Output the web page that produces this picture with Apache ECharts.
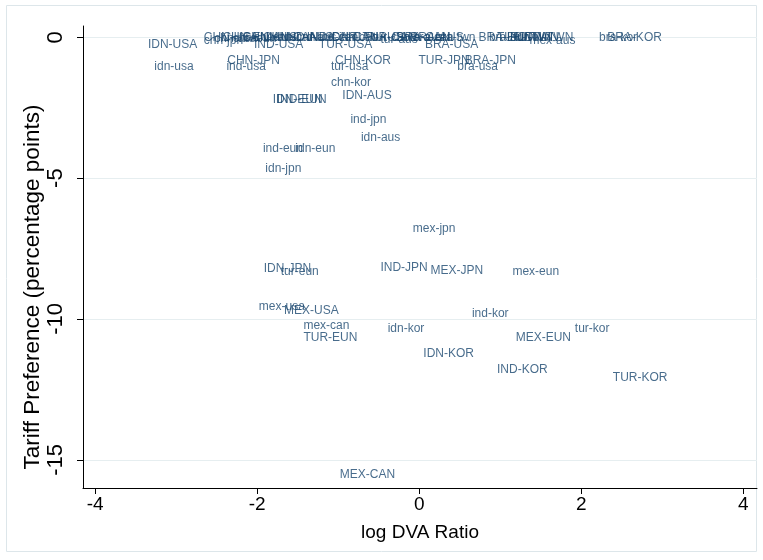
<!DOCTYPE html>
<html>
<head>
<meta charset="utf-8">
<script src="https://cdn.jsdelivr.net/npm/echarts@6/dist/echarts.min.js"></script>
<style>html,body{margin:0;padding:0;background:#fff}#c{width:763px;height:560px}</style>
</head>
<body>
<div id="c"></div>
<script>
var pairLabels = [
  'CHN-USA','chn-jpn','chn-usa','CHN-EUN','chn-eun','CHN-AUS','chn-aus','CHN-CAN','chn-can',
  'IND-AUS','ind-aus','IND-CAN','ind-can','IDN-CAN','idn-can','TUR-AUS','TUR-CAN','tur-can','tur-aus',
  'BRA-CAN','bra-aus','bra-can','BRA-AUS','bra-twn','BRA-EUN','bra-eun','TUR-TWN','IND-TWN','tur-twn',
  'IDN-TWN','mex-aus','bra-kor','BRA-KOR',
  'IDN-USA','idn-usa','IND-USA','ind-usa','TUR-USA','tur-usa','BRA-USA','bra-usa',
  'CHN-JPN','CHN-KOR','TUR-JPN','BRA-JPN','chn-kor','IDN-AUS','IDN-EUN','IND-EUN',
  'ind-jpn','idn-aus','ind-eun','idn-eun','idn-jpn','mex-jpn','IDN-JPN','tur-eun',
  'IND-JPN','MEX-JPN','mex-eun','mex-usa','MEX-USA','ind-kor','mex-can','idn-kor',
  'tur-kor','TUR-EUN','MEX-EUN','IDN-KOR','IND-KOR','TUR-KOR','MEX-CAN'
];
var logDVA = [
  -2.69,-2.69,-2.56,-2.46,-2.33,-2.21,-2.07,-1.96,-1.84,
  -1.70,-1.54,-1.42,-1.27,-1.15,-1.02,-0.88,-0.73,-0.60,-0.51,
  -0.31,-0.23,-0.11,-0.14,0.17,0.70,0.83,0.93,1.05,1.14,
  1.23,1.33,2.19,2.29,
  -3.38,-3.30,-2.07,-2.41,-1.27,-1.12,0.04,0.44,
  -2.40,-1.07,-0.04,0.53,-1.12,-0.98,-1.84,-1.79,
  -0.88,-0.75,-1.96,-1.56,-1.93,-0.11,-1.95,-1.74,
  -0.51,0.11,1.12,-2.01,-1.70,0.62,-1.46,-0.42,
  1.89,-1.46,1.16,0.02,0.93,2.36,-1.01
];
var tariffPref = [
  0,-0.12,-0.05,0,-0.05,0,-0.03,0,-0.03,
  0,-0.03,0,-0.03,0,-0.03,0,0,-0.03,-0.07,
  0,-0.03,-0.03,0,-0.03,0,-0.03,0,0,-0.03,
  0,-0.12,0,0,
  -0.25,-1.03,-0.25,-1.03,-0.25,-1.03,-0.25,-1.03,
  -0.82,-0.82,-0.82,-0.82,-1.60,-2.09,-2.23,-2.23,
  -2.94,-3.58,-3.97,-3.97,-4.65,-6.81,-8.23,-8.33,
  -8.19,-8.30,-8.33,-9.57,-9.72,-9.82,-10.25,-10.35,
  -10.35,-10.67,-10.67,-11.24,-11.81,-12.09,-15.53
];
var xTicks = [-4,-2,0,2,4];
var yTicks = [0,-5,-10,-15];

var data = pairLabels.map(function(n,i){ return {name:n, value:[logDVA[i], tariffPref[i]]}; });

var REG = '"Liberation Sans", Arial, sans-serif';

var chart = echarts.init(document.getElementById('c'), null, {renderer:'canvas'});
chart.setOption({
  animation:false,
  backgroundColor:'#ffffff',
  textStyle:{fontFamily:REG},
  graphic:[{type:'rect', shape:{x:6.5,y:5.5,width:750,height:546}, style:{fill:null, stroke:'#dde6ea', lineWidth:1}, silent:true, z:-1}],
  grid:{left:83, top:26, right:6, bottom:72},
  xAxis:{
    type:'value', min:-4.15, max:4.17,
    name:'log DVA Ratio', nameLocation:'middle', nameGap:35,
    nameTextStyle:{fontSize:19, color:'#000', fontFamily:REG},
    axisLine:{show:true, onZero:false, lineStyle:{color:'#000', width:1}},
    axisTick:{show:true, customValues:xTicks, length:6, lineStyle:{color:'#000'}},
    axisLabel:{customValues:xTicks, fontSize:19, color:'#000', margin:7, fontFamily:REG},
    splitLine:{show:false}
  },
  yAxis:{
    type:'value', min:-16, max:0.4,
    name:'Tariff Preference (percentage points)', nameLocation:'middle', nameGap:39, nameRotate:90,
    nameMoveOverlap:false,
    nameTextStyle:{fontSize:22.5, color:'#000', fontFamily:REG, padding:[0,60,0,0]},
    axisLine:{show:true, onZero:false, lineStyle:{color:'#000', width:1}},
    axisTick:{show:true, customValues:yTicks, length:6, lineStyle:{color:'#000'}},
    axisLabel:{customValues:yTicks, fontSize:22, color:'#000', rotate:90, margin:16, fontFamily:REG},
    splitLine:{show:false}
  },
  series:[{
    type:'scatter',
    data:data,
    symbolSize:1,
    itemStyle:{color:'rgba(0,0,0,0)'},
    label:{show:true, position:'right', distance:2, formatter:'{b}', fontSize:12, color:'#1a476f',
      fontFamily:REG},
    labelLayout:{hideOverlap:false},
    markLine:{
      silent:true, symbol:'none', label:{show:false},
      lineStyle:{color:'#e6eef0', type:'solid', width:1},
      data:yTicks.map(function(v){return {yAxis:v};}),
      z:-1
    }
  }]
});
</script>
</body>
</html>
